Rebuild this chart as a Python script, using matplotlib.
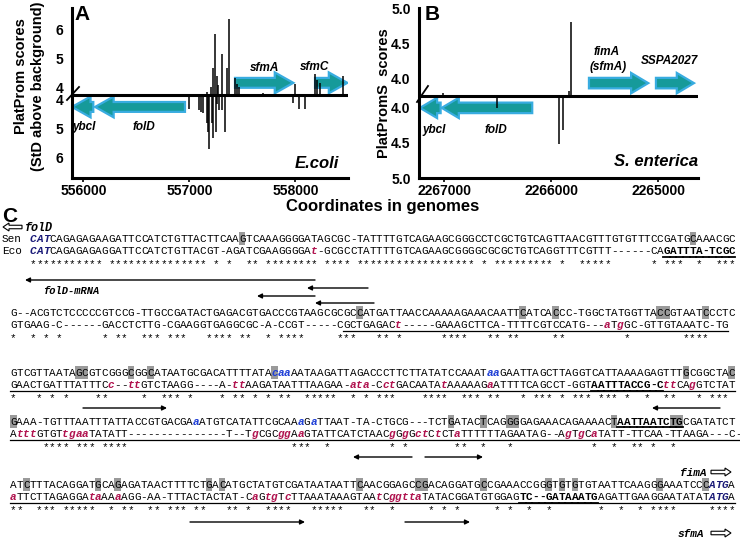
import matplotlib
matplotlib.use("Agg")
import matplotlib.pyplot as plt
from matplotlib.patches import FancyArrow, Rectangle

W, H = 740, 541

# ---------------- Panel A data (E. coli) ----------------
a_up_pos = [557163, 557201, 557226, 557242, 557257, 557273, 557305, 557352, 557377,
            557430, 557452, 557471, 557697, 557996, 558185, 558201, 558232, 558452]
a_up_val = [3.85, 4.0, 4.66, 5.83, 4.37, 4.08, 5.13, 4.66, 6.35,
            4.3, 4.1, 4.0, 3.8, 4.1, 4.46, 4.25, 4.13, 4.4]
a_dn_pos = [556996, 557093, 557109, 557131, 557163, 557179, 557188, 557210, 557226,
            557251, 557264, 557282, 557305, 557336, 557980, 558037, 558091]
a_dn_val = [4.32, 4.35, 4.4, 4.46, 4.8, 5.1, 5.7, 4.8, 5.3,
            5.1, 4.15, 4.35, 4.35, 5.1, 4.1, 4.32, 4.32]
a_genes = [("sfmA", 557430, 557980, 1), ("sfmC", 558185, 558490, 1),
           ("ybcI", 556093, 555892, -1), ("folD", 556958, 556110, -1)]
a_xticks = [556000, 557000, 558000]
a_ytick_vals = [6, 5, 4]

# ---------------- Panel B data (S. enterica) ----------------
b_up_pos = [2267015, 2265832, 2265816]
b_up_val = [3.79, 3.82, 4.80]
b_dn_pos = [2266507, 2265928, 2265894]
b_dn_val = [4.0, 4.52, 4.31]
b_genes = [("fimA", 2265648, 2265094, 1), ("SSPA2027", 2265022, 2264667, 1),
           ("ybcI", 2267034, 2267227, -1), ("folD", 2266178, 2267024, -1)]
b_xticks = [2267000, 2266000, 2265000]
b_ytick_vals = [5.0, 4.5, 4.0]

# ---------------- Panel C alignment ----------------
# [..] grey box, {..} bold underlined, <..> start codon; lowercase = coloured
SEN = [
    "<CAT>CAGAGAGAAGATTCCATCTGTTACTTCAA[G]TCAAAGGGGATAGCGC-TATTTTGTCAGAAGCGGGCCTCGCTGTCAGTTAACGTTTGTGTTTCCGATG[C]AAACGC",
    "G--ACGTCTCCCCCGTCCG-TTGCCGATACTGAGACGTGACCCGTAAGCGCGC[C]ATGATTAACCAAAAAGAAACAATT[C]ATCA[C]CC-TGGCTATGGTTA[CC]GTAAT[C]CCTC",
    "GTCGTTAATA[GC]GTCGGG[C]GG[C]ATAATGCGACATTTTATA[c]aaAATAAGATTAGACCCTTCTTATATCCAAATaaGAATTAGCTTAGGTCATTAAAAGAGTTT[G]CGGCTA[C]",
    "[G]AAA-TGTTTAATTTATTACCGTGACGAaATGTCATATTCGCAAaGaTTAAT-TA-CTGCG---TCT[G]ATAC[T]CAG[GG]GAGAAACAGAAAAC[T]{AATTAATC[TG]}CGATATCT",
    "AT[C]TTTACAGGAT[G]CA[G]AGATAACTTTTCT[G]A[C]ATGCTATGTCGATAATAATT[C]AACGGAGC[CG]ACAGGATG[C]CGAAACCGG[G]T[G]T[G]TGTAATTCAAGG[G]AAATCC[C]<ATG>A",
]
ECO = [
    "<CAT>CAGAGAGAGGATTCCATCTGTTACGT-AGATCGAAGGGGAt-GCGCCTATTTTGTCAGAAGCGGGGCGCGCTGTCAGGTTTCGTTT------CA{GATTTA-TCGC}",
    "GTGAAG-C------GACCTCTTG-CGAAGGTGAGGCGC-A-CCGT-----CGCTGAGACt-----GAAAGCTTCA-TTTTCGTCCATG---aTgGC-GTTGTAAATC-TG",
    "GAACTGATTTATTTCc--ttGTCTAAGG----A-ttAAGATAATTTAAGAA-ata-CctGACAATAtAAAAAGaATTTTCAGCCT-GGT{AATTTACCG-C}ttCAgGTCTAT",
    "AtttGTGTtgaaTATATT---------------T--TgCGCggAaGTATTCATCTAACgGgGctCtCTaTTTTTTAGAATAG--AgTgCaTATT-TTCAA-TTAAGA---C-",
    "aTTCTTAGAGGAtaAAaAGG-AA-TTTACTACTAT-CaGtgTcTTAAATAAAGTAAtCggttaTATACGGATGTGGAG{TC--GATAAATG}AGATTGAAGGAATATAT<ATG>A",
]

# ---------------- layout (pixels) ----------------
TEAL, EDGE = "#169a9a", "#38ace0"
fig = plt.figure(figsize=(W / 100, H / 100), dpi=100)


def px_axes(l, t, r, b):
    return fig.add_axes([l / W, 1 - b / H, (r - l) / W, (b - t) / H])


def style_axes(ax):
    for s in ["top", "right"]:
        ax.spines[s].set_visible(False)
    for s in ["left", "bottom"]:
        ax.spines[s].set_linewidth(2.2)
    ax.axhline(0, color="black", lw=2.2, zorder=3)
    ax.tick_params(axis="y", length=0, pad=6)
    ax.tick_params(axis="x", length=3, width=1.2, direction="out", pad=1.5)
    for lab in ax.get_xticklabels() + ax.get_yticklabels():
        lab.set_fontweight("bold")
        lab.set_fontsize(10)
        lab.set_family("Liberation Sans")


def gene_arrows(ax, genes, yc_up, yc_dn, shaft, hw, hl):
    for name, tail, head, strand in genes:
        yc = yc_up if strand > 0 else yc_dn
        ax.add_patch(FancyArrow(tail, yc, head - tail, 0, width=shaft, head_width=hw,
                                head_length=hl, length_includes_head=True,
                                fc=TEAL, ec=EDGE, lw=1.6, zorder=2))


# Panel A  (upper baseline value, lower baseline value)
UPA, DNA_ = 3.73, 3.83
axA = px_axes(72, 8, 348, 178)
axA.set_xlim(555892, 558496)
axA.set_ylim(-2.86, 3.0)
axA.vlines(a_up_pos, 0, [v - UPA for v in a_up_val], color="black", lw=1.1, zorder=4)
axA.vlines(a_dn_pos, 0, [-(v - DNA_) for v in a_dn_val], color="black", lw=1.1, zorder=4)
gene_arrows(axA, a_genes, 0.42, -0.41, 0.34, 0.72, 175)
axA.set_xticks(a_xticks)
axA.set_xticklabels([str(t) for t in a_xticks])
axA.set_yticks([v - UPA for v in a_ytick_vals] + [-(v - DNA_) for v in a_ytick_vals[::-1]])
axA.set_yticklabels([str(v) for v in a_ytick_vals] + [str(v) for v in a_ytick_vals[::-1]])
style_axes(axA)

# Panel B
UPB, DNB = 3.743, 3.833
axB = px_axes(419, 8, 698, 178)
axB.set_xlim(2267236, 2264629)
axB.set_ylim(-1.15, 1.257)
axB.vlines(b_up_pos, 0, [v - UPB for v in b_up_val], color="black", lw=1.1, zorder=4)
axB.vlines(b_dn_pos, 0, [-(v - DNB) for v in b_dn_val], color="black", lw=1.1, zorder=4)
gene_arrows(axB, b_genes, 0.186, -0.167, 0.15, 0.29, 160)
axB.set_xticks(b_xticks)
axB.set_xticklabels([str(t) for t in b_xticks])
axB.set_yticks([v - UPB for v in b_ytick_vals] + [-(v - DNB) for v in b_ytick_vals[::-1]])
axB.set_yticklabels(["%.1f" % v for v in b_ytick_vals] + ["%.1f" % v for v in b_ytick_vals[::-1]])
style_axes(axB)

# overlay in pixel coordinates
ov = fig.add_axes([0, 0, 1, 1])
ov.set_xlim(0, W)
ov.set_ylim(H, 0)
ov.axis("off")

SANS = "Liberation Sans"
MONO = "Liberation Mono"


def T(x, y, s, size=9, weight="bold", style="normal", family=SANS, color="black", **kw):
    ov.text(x, y, s, fontsize=size, fontweight=weight, fontstyle=style, family=family,
            color=color, **kw)


# panel labels / gene names
T(82, 15, "A", 15, ha="center", va="center")
T(432, 14, "B", 15, ha="center", va="center")
T(265, 68, "sfmA", 8.5, style="italic", ha="center", va="center")
T(315, 67, "sfmC", 8.5, style="italic", ha="center", va="center")
T(84, 127, "ybcI", 8.5, style="italic", ha="center", va="center")
T(144, 127, "folD", 8.5, style="italic", ha="center", va="center")
T(317, 163, "E.coli", 12, style="italic", ha="center", va="center")
T(607, 52, "fimA", 8.5, style="italic", ha="center", va="center")
T(608, 67, "(sfmA)", 8.5, style="italic", ha="center", va="center")
T(669, 61, "SSPA2027", 8.5, style="italic", ha="center", va="center")
T(434, 130, "ybcI", 8.5, style="italic", ha="center", va="center")
T(496, 130, "folD", 8.5, style="italic", ha="center", va="center")
T(656, 162, "S. enterica", 12, style="italic", ha="center", va="center")
T(21, 76, "PlatProm scores", 10.5, rotation=90, ha="center", va="center")
T(38, 86, "(StD above background)", 10.5, rotation=90, ha="center", va="center")
T(384, 93, "PlatPromS  scores", 10.5, rotation=90, ha="center", va="center")
T(383, 207, "Coordinates in genomes", 12, ha="center", va="center")
# axis break marks
ov.plot([67, 79], [100, 87], color="black", lw=1.3)
ov.plot([417, 428], [102, 86], color="black", lw=1.3)

# ---------------- Panel C ----------------
T(10, 216, "C", 15, ha="center", va="center")

P = 6.53          # character pitch (px)
FS = 7.9          # mono font size (pt)
BLOCK_X0 = [30, 10, 10, 10, 10]
ROW_SEN = [238, 312, 372, 421, 484]
ROW_GAP = 12.5
STAR_GAP = 12
ECO_UNDER = [None, (51, None), (0, None), (0, None), (0, None)]
SEN_LOW, ECO_LOW, CODON = "#1f3fd6", "#b0124e", "#1a1a78"


def parse(s):
    out = []
    hl = bu = cod = False
    for ch in s:
        if ch == "[":
            hl = True
        elif ch == "]":
            hl = False
        elif ch == "{":
            bu = True
        elif ch == "}":
            bu = False
        elif ch == "<":
            cod = True
        elif ch == ">":
            cod = False
        else:
            out.append((ch, hl, bu, cod))
    return out


def draw_row(chars, x0, yc, low_color):
    for i, (ch, hl, bu, cod) in enumerate(chars):
        xl = x0 + i * P
        if hl:
            ov.add_patch(Rectangle((xl, yc - 6.5), P, 13, color="#9a9a9a", lw=0, zorder=1))
        if ch.islower():
            c, w, st = low_color, "bold", "italic"
        elif cod:
            c, w, st = CODON, "bold", "italic"
        elif bu:
            c, w, st = "black", "bold", "normal"
        else:
            c, w, st = "black", "normal", "normal"
        ov.text(xl + P / 2, yc + 3.8, ch, fontsize=FS, family=MONO, color=c,
                fontweight=w, fontstyle=st, ha="center", va="baseline", zorder=3)
        if bu:
            ov.plot([xl, xl + P], [yc + 6, yc + 6], color="black", lw=1.3, zorder=3)


for k in range(5):
    sen = parse(SEN[k])
    eco = parse(ECO[k])
    x0 = BLOCK_X0[k]
    ys = ROW_SEN[k]
    ye = ys + ROW_GAP
    yst = ye + STAR_GAP
    if k == 0:
        T(2, ys + 3.8, "Sen", FS, weight="normal", family=MONO, va="baseline")
        T(2, ye + 3.8, "Eco", FS, weight="normal", family=MONO, va="baseline")
    draw_row(sen, x0, ys, SEN_LOW)
    draw_row(eco, x0, ye, ECO_LOW)
    if ECO_UNDER[k] is not None:
        i0, i1 = ECO_UNDER[k]
        i1 = len(eco) if i1 is None else i1
        ov.plot([x0 + i0 * P, x0 + i1 * P], [ye + 6, ye + 6], color="black", lw=0.9)
    stars = "".join("*" if (a[0] != "-" and a[0].upper() == b[0].upper()) else " "
                    for a, b in zip(sen, eco))
    for i, ch in enumerate(stars):
        if ch == "*":
            ov.text(x0 + i * P + P / 2, yst + 5, ch, fontsize=FS, family=MONO,
                    ha="center", va="baseline")

# thin transcript arrows (head, tail, y)
ARROWS = [(25, 315, 280), (307, 368, 288), (257, 315, 296), (315, 374, 303),
          (167, 83, 408), (652, 720, 408), (353, 412, 457), (483, 425, 457),
          (305, 190, 522), (470, 405, 522)]
for xh, xt, y in ARROWS:
    ov.annotate("", xy=(xh, y), xytext=(xt, y),
                arrowprops=dict(arrowstyle="-|>", lw=1.0, color="black",
                                mutation_scale=7, shrinkA=0, shrinkB=0))


def open_arrow(x_tail, x_head, y):
    ov.add_patch(FancyArrow(x_tail, y, x_head - x_tail, 0, width=3.5, head_width=8,
                            head_length=6, length_includes_head=True, fc="white",
                            ec="black", lw=0.8))


open_arrow(22, 3, 227)
T(25, 227 + 3.8, "folD", 8.5, style="italic", family=MONO, va="baseline")
T(43, 290 + 3.8, "folD-mRNA", 7.5, style="italic", family=MONO, va="baseline")
T(680, 472 + 3.8, "fimA", 8, style="italic", family=MONO, va="baseline")
open_arrow(711, 731, 472)
T(678, 533 + 3.8, "sfmA", 8, style="italic", family=MONO, va="baseline")
open_arrow(711, 731, 533)

fig.savefig("out.png", dpi=100)
